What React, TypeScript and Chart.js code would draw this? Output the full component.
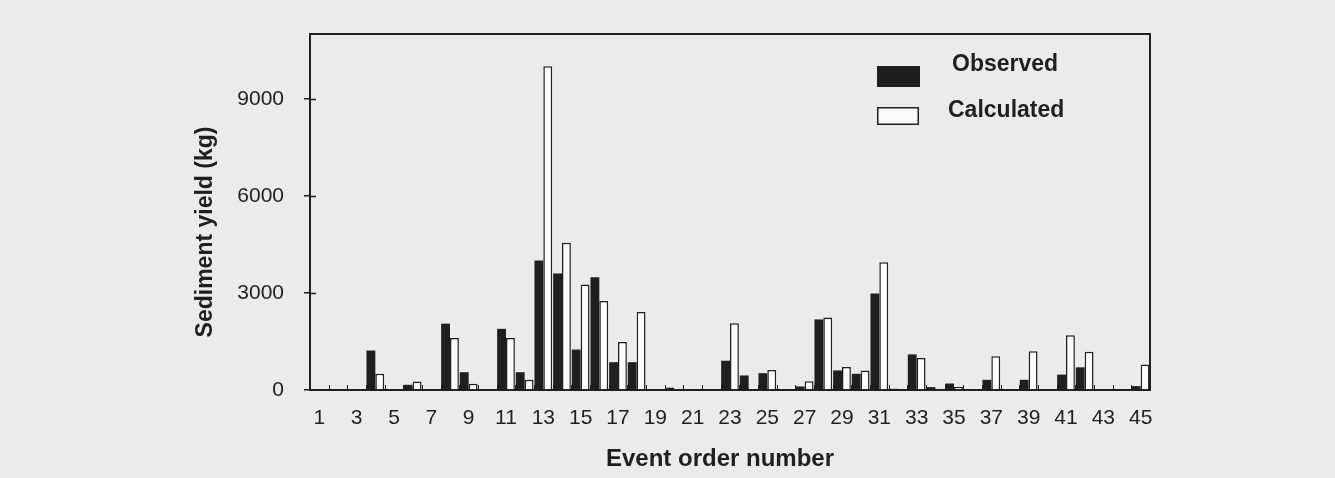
import React, { useEffect, useRef } from "react";
import { Chart, registerables } from "chart.js";

Chart.register(...registerables);

// ---------- data ----------
const categories = [
  "1", "2", "3", "4", "5", "6", "7", "8", "9", "10",
  "11", "12", "13", "14", "15", "16", "17", "18", "19", "20",
  "21", "22", "23", "24", "25", "26", "27", "28", "29", "30",
  "31", "32", "33", "34", "35", "36", "37", "38", "39", "40",
  "41", "42", "43", "44", "45",
];
const shownTickLabels = [
  "1", "3", "5", "7", "9", "11", "13", "15", "17", "19", "21", "23",
  "25", "27", "29", "31", "33", "35", "37", "39", "41", "43", "45",
];
const observed = [
  0, 0, 0, 1220, 0, 160, 0, 2050, 550, 0,
  1890, 550, 4000, 3600, 1250, 3480, 860, 860, 0, 70,
  0, 0, 905, 450, 520, 0, 110, 2180, 605, 500,
  2980, 36, 1100, 90, 200, 0, 315, 0, 315, 0,
  475, 700, 0, 0, 120,
];
const calculated = [
  0, 0, 0, 500, 0, 265, 0, 1610, 190, 0,
  1610, 315, 10000, 4550, 3260, 2750, 1480, 2410, 0, 0,
  0, 0, 2065, 0, 620, 0, 270, 2240, 708, 605,
  3945, 0, 990, 36, 90, 0, 1045, 0, 1200, 0,
  1693, 1185, 0, 0, 790,
];
const yTickValues = [0, 3000, 6000, 9000];
const yMax = 11000;
const seriesNames = ["Observed", "Calculated"];
const xTitle = "Event order number";
const yTitle = "Sediment yield (kg)";

// ---------- style ----------
const FONT = "'Liberation Sans', Arial, Helvetica, sans-serif";
const INK = "#1f1f1f";
const PAPER = "#ebebeb";
const WHITE = "#fbfbfb";

const decorPlugin = {
  id: "decor",
  afterDatasetsDraw(chart: any) {
    const { ctx, chartArea: a, scales } = chart;
    ctx.save();
    ctx.strokeStyle = INK;
    // top and right frame of the plot area
    ctx.lineWidth = 2;
    ctx.beginPath();
    ctx.moveTo(a.left, a.top);
    ctx.lineTo(a.right, a.top);
    ctx.lineTo(a.right, a.bottom);
    ctx.stroke();
    // inner part of the y ticks
    ctx.lineWidth = 1.5;
    const ys = scales.y;
    ys.ticks.forEach((t: any) => {
      if (t.value === 0) return;
      const py = Math.round(ys.getPixelForValue(t.value)) + 0.5;
      ctx.beginPath();
      ctx.moveTo(a.left, py);
      ctx.lineTo(a.left + 6, py);
      ctx.stroke();
    });
    // inner ticks between categories on the x axis
    const xs = scales.x;
    ctx.lineWidth = 1;
    for (let i = 1; i < categories.length; i++) {
      const px = Math.round(xs.getPixelForValue(i - 0.5)) + 0.5;
      ctx.beginPath();
      ctx.moveTo(px, a.bottom);
      ctx.lineTo(px, a.bottom - 5);
      ctx.stroke();
    }
    ctx.restore();
  },
  afterDraw(chart: any) {
    const { ctx, chartArea: a } = chart;
    ctx.save();
    ctx.fillStyle = INK;
    // axis titles
    ctx.font = `bold 24px ${FONT}`;
    ctx.textAlign = "center";
    ctx.textBaseline = "middle";
    ctx.fillText(xTitle, (a.left + a.right) / 2 - 10, a.bottom + 69);
    ctx.save();
    ctx.translate(a.left - 104, (a.top + a.bottom) / 2 + 20);
    ctx.rotate(-Math.PI / 2);
    ctx.font = `bold 23px ${FONT}`;
    ctx.fillText(yTitle, 0, 0);
    ctx.restore();
    // legend
    const ds = chart.data.datasets;
    const items = [
      { box: [a.right - 273, a.top + 32, 43, 21], tx: a.right - 198, ty: a.top + 31 },
      { box: [a.right - 273, a.top + 73, 42, 18], tx: a.right - 202, ty: a.top + 77 },
    ];
    ds.forEach((d: any, i: number) => {
      const it = items[i];
      const [bx, by, bw, bh] = it.box;
      ctx.fillStyle = d.backgroundColor;
      ctx.fillRect(bx, by, bw, bh);
      if (d.borderWidth) {
        ctx.strokeStyle = d.borderColor;
        ctx.lineWidth = 1.5;
        ctx.strokeRect(bx + 0.75, by + 0.75, bw - 1.5, bh - 1.5);
      }
      ctx.fillStyle = INK;
      ctx.font = `bold 23px ${FONT}`;
      ctx.textAlign = "left";
      ctx.textBaseline = "middle";
      ctx.fillText(d.label, it.tx, it.ty);
    });
    ctx.restore();
  },
};

export default function App() {
  const ref = useRef<HTMLCanvasElement | null>(null);

  useEffect(() => {
    if (!ref.current) return;
    const chart = new Chart(ref.current, {
      type: "bar",
      data: {
        labels: categories,
        datasets: [
          {
            label: seriesNames[0],
            data: observed,
            backgroundColor: INK,
            borderColor: INK,
            borderWidth: 0,
            barPercentage: 1,
            categoryPercentage: 0.95,
          },
          {
            label: seriesNames[1],
            data: calculated,
            backgroundColor: WHITE,
            borderColor: INK,
            borderWidth: 1.5,
            barPercentage: 1,
            categoryPercentage: 0.95,
          },
        ],
      },
      options: {
        responsive: true,
        maintainAspectRatio: false,
        animation: false,
        layout: { padding: { left: 0, right: 185, top: 34, bottom: 0 } },
        plugins: {
          legend: { display: false },
          tooltip: { enabled: false },
          title: { display: false },
        },
        scales: {
          x: {
            grid: { display: false, drawTicks: false },
            border: { display: true, color: INK, width: 2 },
            ticks: {
              autoSkip: false,
              maxRotation: 0,
              minRotation: 0,
              padding: 16,
              color: INK,
              font: { family: FONT, size: 21 },
              callback: (_v: any, i: number) =>
                shownTickLabels.includes(categories[i]) ? categories[i] : "",
            },
            afterFit: (s: any) => {
              s.height = 88;
            },
          },
          y: {
            min: 0,
            max: yMax,
            afterBuildTicks: (s: any) => {
              s.ticks = yTickValues.map((v) => ({ value: v }));
            },
            grid: {
              display: true,
              drawOnChartArea: false,
              drawTicks: true,
              tickLength: 6,
              color: INK,
              lineWidth: 1.5,
            },
            border: { display: true, color: INK, width: 2 },
            ticks: {
              padding: 20,
              color: INK,
              font: { family: FONT, size: 21 },
              callback: (v: any) => String(v),
            },
            afterFit: (s: any) => {
              s.width = 310;
            },
          },
        },
      },
      plugins: [decorPlugin],
    });
    return () => chart.destroy();
  }, []);

  return (
    <div
      style={{
        position: "fixed",
        left: 0,
        top: 0,
        width: 1335,
        height: 478,
        background: PAPER,
      }}
    >
      <canvas ref={ref} />
    </div>
  );
}
